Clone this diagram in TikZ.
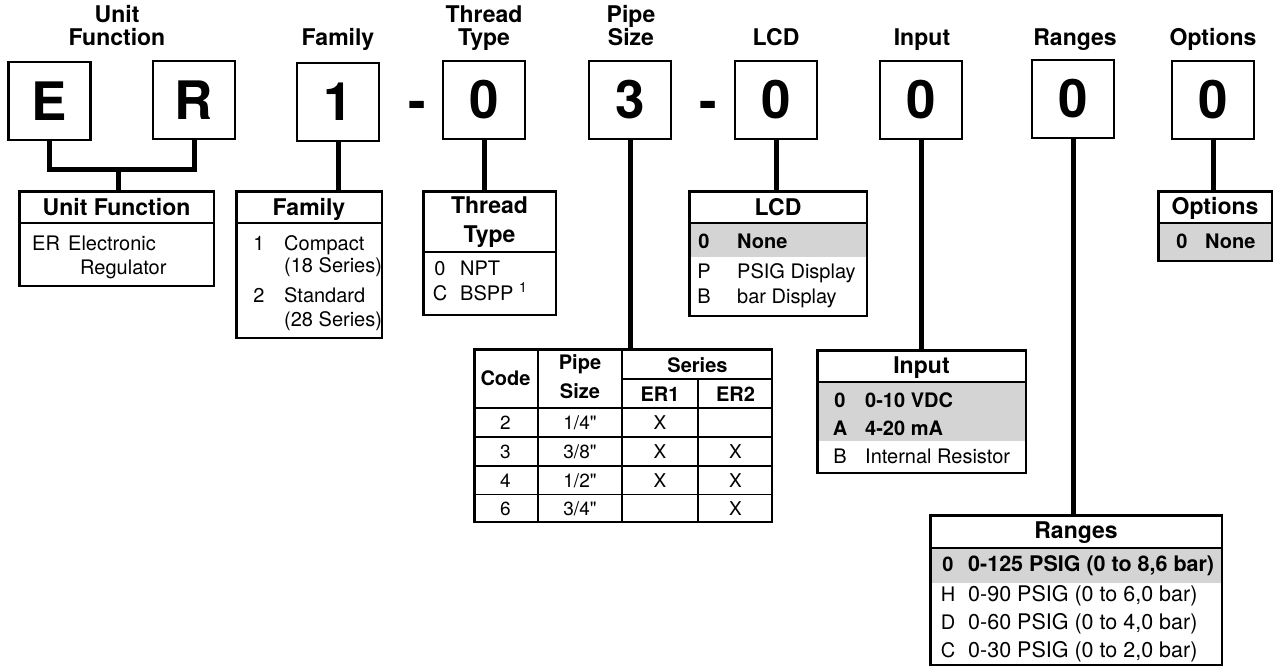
\documentclass[tikz,border=0pt]{standalone}
\usepackage{fontspec}
\setmainfont{TeX Gyre Heros}[Ligatures=TeXOff]
\definecolor{greyfill}{RGB}{212,212,212}
\newcommand{\myfs}[1]{\fontsize{#1pt}{#1pt}\selectfont}
\begin{document}
\begin{tikzpicture}[x=1pt,y=-1pt,
  letterbox/.style={draw, line width=2.5pt, minimum width=82pt, minimum height=78pt, inner sep=0pt, font=\bfseries\myfs{53}},
  dashtxt/.style={font=\bfseries\myfs{53}, inner sep=0pt, anchor=base},
  lbl/.style={font=\bfseries\myfs{23}, inner sep=0pt, align=center, anchor=base},
  hd/.style={font=\bfseries\myfs{23}, inner sep=0pt, align=center, anchor=base},
  bd/.style={font=\myfs{20}, inner sep=0pt, anchor=base west},
  bdc/.style={font=\myfs{20}, inner sep=0pt, anchor=base},
  bdb/.style={font=\bfseries\myfs{20}, inner sep=0pt, anchor=base west},
  bdbc/.style={font=\bfseries\myfs{20}, inner sep=0pt, anchor=base},
  ph/.style={font=\bfseries\myfs{20}, inner sep=0pt, align=center, anchor=base},
  pr/.style={font=\myfs{19}, inner sep=0pt, anchor=base},
  rg/.style={font=\myfs{21.5}, inner sep=0pt, anchor=base west},
  rgc/.style={font=\myfs{20}, inner sep=0pt, anchor=base},
  rgb/.style={font=\bfseries\myfs{21.5}, inner sep=0pt, anchor=base west},
  rgbc/.style={font=\bfseries\myfs{20}, inner sep=0pt, anchor=base},
  frame/.style={draw, line width=2.5pt, inner sep=0pt},
  divider/.style={line width=2.5pt},
  thin/.style={line width=1.8pt},
  stem/.style={line width=5pt, line join=miter},
]
\useasboundingbox (0,0) rectangle (1277,669);

% ---- top code boxes
\node[letterbox] (E) at (49.5,101) {E};
\node[letterbox] (R) at (194,100) {R};
\node[letterbox] (F1) at (338,102) {1};
\node[dashtxt] (d1) at (417,119) {-};
\node[letterbox] (T0) at (484,100) {0};
\node[letterbox] (P3) at (630,100) {3};
\node[dashtxt] (d2) at (708,119) {-};
\node[letterbox] (L0) at (776,100) {0};
\node[letterbox] (I0) at (921,100) {0};
\node[letterbox] (G0) at (1073,99) {0};
\node[letterbox] (O0) at (1213,100) {0};

% ---- top labels
\node[lbl] (lUF) at (117,46) {Unit\\Function};
\node[lbl] (lF) at (338,46) {Family};
\node[lbl] (lT) at (484,46) {Thread\\Type};
\node[lbl] (lP) at (631,46) {Pipe\\Size};
\node[lbl] (lL) at (776,46) {LCD};
\node[lbl] (lI) at (922,46) {Input};
\node[lbl] (lG) at (1075,46) {Ranges};
\node[lbl] (lO) at (1213,46) {Options};

% ---- gray fills
\fill[greyfill] (688,223) rectangle (868,257);
\fill[greyfill] (1157,223) rectangle (1273,262);
\fill[greyfill] (816,382) rectangle (1027,441);
\fill[greyfill] (929,548) rectangle (1223,583);

% ---- table frames
\node[frame, minimum width=194.5pt, minimum height=94.5pt] (ufT) at (116.5,238.5) {};
\node[frame, minimum width=145.5pt, minimum height=146.5pt] (famT) at (309,264.5) {};
\node[frame, minimum width=132.5pt, minimum height=123.5pt] (thT) at (489.5,253) {};
\node[frame, minimum width=177.5pt, minimum height=124.5pt] (lcdT) at (778,253.5) {};
\node[frame, minimum width=113.5pt, minimum height=69.5pt] (opT) at (1215,226) {};
\node[frame, minimum width=297.5pt, minimum height=172.5pt] (pipeT) at (623,435.5) {};
\node[frame, minimum width=208.5pt, minimum height=122.5pt] (inT) at (921.5,411.5) {};
\node[frame, minimum width=291.5pt, minimum height=149.5pt] (rgT) at (1076,590) {};

% ---- header dividers
\draw[divider] (ufT.west |- 0,223) -- (ufT.east |- 0,223);
\draw[divider] (famT.west |- 0,223) -- (famT.east |- 0,223);
\draw[divider] (thT.west |- 0,252) -- (thT.east |- 0,252);
\draw[divider] (lcdT.west |- 0,223) -- (lcdT.east |- 0,223);
\draw[divider] (opT.west |- 0,223) -- (opT.east |- 0,223);
\draw[divider] (inT.west |- 0,382) -- (inT.east |- 0,382);
\draw[divider] (rgT.west |- 0,548) -- (rgT.east |- 0,548);

% ---- pipe table grid
\draw[thin] (538,348) -- (538,523);
\draw[thin] (622,348) -- (622,523);
\draw[thin] (698,379) -- (698,523);
\draw[thin] (622,379) -- (773,379);
\draw[divider] (473,408) -- (773,408);
\draw[thin] (473,437) -- (773,437);
\draw[thin] (473,466) -- (773,466);
\draw[thin] (473,494.5) -- (773,494.5);

% ---- connectors
\coordinate (ufj) at (118,169);
\draw[stem] (E.south) |- (ufj) -| (R.south);
\draw[stem] (ufj) -- (ufj |- ufT.north);
\draw[stem] (F1.south) -- (F1.south |- famT.north);
\draw[stem] (T0.south) -- (T0.south |- thT.north);
\draw[stem] (P3.south) -- (P3.south |- pipeT.north);
\draw[stem] (L0.south) -- (L0.south |- lcdT.north);
\draw[stem] (I0.south) -- (I0.south |- inT.north);
\draw[stem] (G0.south) -- (G0.south |- rgT.north);
\draw[stem] (O0.south) -- (O0.south |- opT.north);

% ---- Unit Function table text
\node[hd] (ufH) at (116.5,215) {Unit Function};
\node[bd] (ufc) at (32,250) {ER};
\node[bd] (ufa) at (68,250) {Electronic};
\node[bd] (ufb) at (80,274) {Regulator};

% ---- Family table text
\node[hd] (famH) at (309,215) {Family};
\node[bdc] (fc1) at (259,250) {1};
\node[bd] (fa1) at (284,250) {Compact};
\node[bd] (fb1) at (284,272) {(18 Series)};
\node[bdc] (fc2) at (259,302) {2};
\node[bd] (fa2) at (284,302) {Standard};
\node[bd] (fb2) at (284,326) {(28 Series)};

% ---- Thread table text
\node[hd] (thH) at (489.5,242) {Thread\\[6pt]Type};
\node[bdc] (tc1) at (440,275) {0};
\node[bd] (ta1) at (460,275) {NPT};
\node[bdc] (tc2) at (440,300) {C};
\node[bd] (ta2) at (460,300) {BSPP \textsuperscript{1}};

% ---- LCD table text
\node[hd] (lcdH) at (778,215) {LCD};
\node[bdbc] (lc1) at (704,248) {0};
\node[bdb] (la1) at (737,248) {None};
\node[bdc] (lc2) at (704,278) {P};
\node[bd] (la2) at (737,278) {PSIG Display};
\node[bdc] (lc3) at (704,303) {B};
\node[bd] (la3) at (737,303) {bar Display};

% ---- Options table text
\node[hd] (opH) at (1215,214) {Options};
\node[bdbc] (oc1) at (1182,248) {0};
\node[bdb] (oa1) at (1205,248) {None};

% ---- Pipe table text
\node[ph] (pCode) at (505.5,385) {Code};
\node[ph] (pSize) at (580,398) {Pipe\\[9pt]Size};
\node[ph] (pSer) at (697.5,372) {Series};
\node[ph] (pE1) at (660,401) {ER1};
\node[ph] (pE2) at (735.5,401) {ER2};
\node[pr] (r1a) at (505.5,429) {2};
\node[pr] (r1b) at (580,429) {1/4"};
\node[pr] (r1c) at (660,429) {X};
\node[pr] (r2a) at (505.5,458) {3};
\node[pr] (r2b) at (580,458) {3/8"};
\node[pr] (r2c) at (660,458) {X};
\node[pr] (r2d) at (735.5,458) {X};
\node[pr] (r3a) at (505.5,487) {4};
\node[pr] (r3b) at (580,487) {1/2"};
\node[pr] (r3c) at (660,487) {X};
\node[pr] (r3d) at (735.5,487) {X};
\node[pr] (r4a) at (505.5,515) {6};
\node[pr] (r4b) at (580,515) {3/4"};
\node[pr] (r4d) at (735.5,515) {X};

% ---- Input table text
\node[hd] (inH) at (921.5,373) {Input};
\node[bdbc] (ic1) at (840,407) {0};
\node[bdb] (ia1) at (865,407) {0-10 VDC};
\node[bdbc] (ic2) at (840,435) {A};
\node[bdb] (ia2) at (865,435) {4-20 mA};
\node[bdc] (ic3) at (840,463) {B};
\node[bd] (ia3) at (865,463) {Internal Resistor};

% ---- Ranges table text
\node[hd] (rgH) at (1076,538) {Ranges};
\node[rgbc] (gc1) at (948,571) {0};
\node[rgb] (ga1) at (968,571) {0-125 PSIG (0 to 8,6 bar)};
\node[rgc] (gc2) at (948,601) {H};
\node[rg] (ga2) at (968,601) {0-90 PSIG (0 to 6,0 bar)};
\node[rgc] (gc3) at (948,629) {D};
\node[rg] (ga3) at (968,629) {0-60 PSIG (0 to 4,0 bar)};
\node[rgc] (gc4) at (948,657) {C};
\node[rg] (ga4) at (968,657) {0-30 PSIG (0 to 2,0 bar)};
\end{tikzpicture}
\end{document}
